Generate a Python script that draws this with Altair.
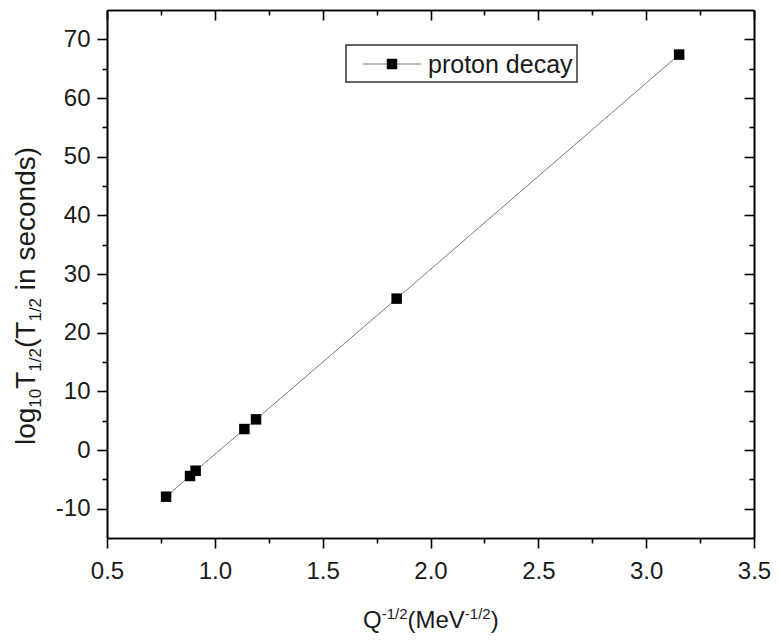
import altair as alt
import pandas as pd

# ---- data ----
q_inv_sqrt = [0.774, 0.885, 0.911, 1.137, 1.191, 1.843, 3.153]
log_half_life = [-7.96, -4.43, -3.53, 3.57, 5.22, 25.8, 67.4]
series_name = ["proton decay"]

x_major = [0.5, 1.0, 1.5, 2.0, 2.5, 3.0, 3.5]
x_minor = [0.75, 1.25, 1.75, 2.25, 2.75, 3.25]
y_major = [-10, 0, 10, 20, 30, 40, 50, 60, 70]
y_minor = [-5, 5, 15, 25, 35, 45, 55, 65]

df = pd.DataFrame({"x": q_inv_sqrt, "y": log_half_life,
                   "series": series_name * len(q_inv_sqrt)})

W, H = 647, 528
FONT = "Liberation Sans"
xs = alt.Scale(domain=[0.5, 3.5], nice=False, zero=False)
ys = alt.Scale(domain=[-15, 75], nice=False, zero=False)


def axis(values, orient, labels, tick, offset=0, pad=8, fmt=None, expr=None):
    kw = dict(values=values, orient=orient, labels=labels, ticks=True,
              tickSize=tick, offset=offset, domain=True, domainColor="black",
              domainWidth=1.6, tickColor="black", tickWidth=1.6, grid=False,
              title=None, labelFont=FONT, labelFontSize=24,
              labelColor="#1a1a1a", labelPadding=pad, labelFlush=False,
              labelOverlap=False, labelBound=False)
    if fmt:
        kw["format"] = fmt
    if expr:
        kw["labelExpr"] = expr
    return alt.Axis(**kw)


yexpr = "datum.value < 0 ? '-' + format(-datum.value, 'd') : format(datum.value, 'd')"

line = alt.Chart(df).mark_line(color="#7a7a7a", strokeWidth=1).encode(
    x=alt.X("x:Q", scale=xs, axis=axis(x_major, "bottom", True, 10, pad=11, fmt=".1f")),
    y=alt.Y("y:Q", scale=ys, axis=axis(y_major, "left", True, 10, pad=7, expr=yexpr)),
    order=alt.Order("x:Q"),
)
points = alt.Chart(df).mark_square(size=110, color="black", opacity=1).encode(
    x=alt.X("x:Q", scale=xs, axis=axis(x_minor, "bottom", False, 5)),
    y=alt.Y("y:Q", scale=ys, axis=axis(y_minor, "left", False, 5)),
)
mirror_major = alt.Chart(df).mark_point(opacity=0).encode(
    x=alt.X("x:Q", scale=xs, axis=axis(x_major, "bottom", False, 10, offset=-H)),
    y=alt.Y("y:Q", scale=ys, axis=axis(y_major, "left", False, 10, offset=-W)),
)
mirror_minor = alt.Chart(df).mark_point(opacity=0).encode(
    x=alt.X("x:Q", scale=xs, axis=axis(x_minor, "bottom", False, 5, offset=-H)),
    y=alt.Y("y:Q", scale=ys, axis=axis(y_minor, "left", False, 5, offset=-W)),
)

# ---- axis titles with sub/superscripts, built from pieces ----
CW = {'l': .222, 'o': .556, 'g': .556, '1': .556, '0': .556, 'T': .611, '/': .278,
      '2': .556, '(': .333, ')': .333, ' ': .278, 'i': .222, 'n': .556, 's': .5,
      'e': .556, 'c': .5, 'd': .556, 'Q': .778, '-': .333, 'M': .833, 'V': .667}


def tw(t, size):
    return sum(CW.get(ch, .556) for ch in t) * size


# y title: (text, is_sub, leading gap in em of the main font)
y_pieces = [("log", 0, 0), ("10", 1, 0), ("T", 0, 0), ("1/2", 1, 0), ("(T", 0, 0),
            ("1/2", 1, 0), ("in seconds)", 0, 0.278)]
rows = []
pos = 445.0
for t, sub, gap in y_pieces:
    size = 17 if sub else 28
    pos -= gap * 28
    rows.append({"t": t, "px": 41 if sub else 35, "py": pos, "s": size})
    pos -= tw(t, size)
ytitle_df = pd.DataFrame(rows)

x_pieces = [("Q", 0), ("-1/2", 1), ("(MeV", 0), ("-1/2", 1), (")", 0)]
rows = []
pos = 363.0
for t, sup in x_pieces:
    size = 15 if sup else 24
    rows.append({"t": t, "px": pos, "py": 619 if sup else 628, "s": size})
    pos += tw(t, size)
xtitle_df = pd.DataFrame(rows)

ytitle = alt.Chart(ytitle_df).mark_text(angle=270, align="left", baseline="alphabetic",
                                        font=FONT, color="#1a1a1a").encode(
    x=alt.X("px:Q", scale=None, axis=None), y=alt.Y("py:Q", scale=None, axis=None),
    text="t:N", size=alt.Size("s:Q", scale=None, legend=None))
xtitle = alt.Chart(xtitle_df).mark_text(align="left", baseline="alphabetic",
                                        font=FONT, color="#1a1a1a").encode(
    x=alt.X("px:Q", scale=None, axis=None), y=alt.Y("py:Q", scale=None, axis=None),
    text="t:N", size=alt.Size("s:Q", scale=None, legend=None))

# ---- legend box ----
leg_df = pd.DataFrame({"label": series_name})
leg_box = alt.Chart(leg_df).mark_rect(fill="white", stroke="#333", strokeWidth=1.5).encode(
    x=alt.value(346 - 107), x2=alt.value(577 - 107), y=alt.value(45 - 10), y2=alt.value(82 - 10))
leg_line = alt.Chart(leg_df).mark_rule(color="#7a7a7a", strokeWidth=1).encode(
    x=alt.value(363 - 107), x2=alt.value(421 - 107), y=alt.value(64 - 10))
leg_pt = alt.Chart(leg_df).mark_square(size=110, color="black", opacity=1).encode(
    x=alt.value(392 - 107), y=alt.value(64 - 10))
leg_txt = alt.Chart(leg_df).mark_text(align="left", baseline="alphabetic", font=FONT,
                                      fontSize=25, color="#1a1a1a").encode(
    x=alt.value(428 - 107), y=alt.value(73 - 10), text="label:N")

chart = alt.layer(
    mirror_major, mirror_minor, line, points,
    leg_box, leg_line, leg_pt, leg_txt,
).resolve_axis(x="independent", y="independent").properties(width=W, height=H)

# titles are placed relative to the plot origin (107, 10)
ytitle = ytitle.transform_calculate(px="datum.px - 107", py="datum.py - 10")
xtitle = xtitle.transform_calculate(px="datum.px - 107", py="datum.py - 10")

full = alt.layer(chart, ytitle, xtitle).properties(
    width=W, height=H,
    autosize=alt.AutoSizeParams(type="none"),
    padding={"left": 107, "top": 10, "right": 24, "bottom": 102},
).configure_view(stroke=None).configure(background="white")

full.save("out.html", embed_options={"renderer": "svg", "actions": False})
